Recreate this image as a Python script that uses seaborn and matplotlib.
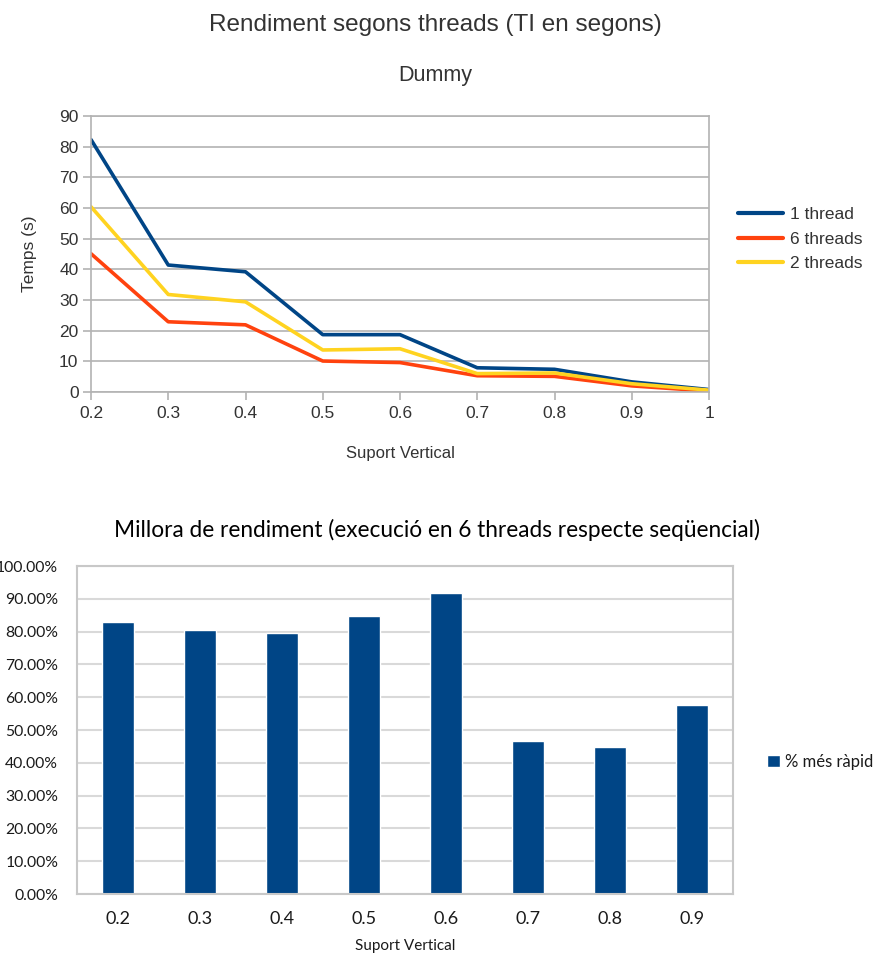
import numpy as np
import pandas as pd
import matplotlib
matplotlib.use("Agg")
import matplotlib.pyplot as plt
from matplotlib.patches import Patch
from matplotlib.ticker import FuncFormatter, MultipleLocator
import seaborn as sns

# --- data ---------------------------------------------------------------
support = [0.2, 0.3, 0.4, 0.5, 0.6, 0.7, 0.8, 0.9, 1.0]
t_1thread = [82.3, 41.4, 39.2, 18.7, 18.7, 7.9, 7.4, 3.3, 0.8]
t_6threads = [45.1, 22.9, 21.9, 10.1, 9.6, 5.3, 5.1, 2.0, 0.3]
t_2threads = [60.4, 31.8, 29.4, 13.7, 14.1, 6.0, 6.2, 2.7, 0.6]
series_names = ["1 thread", "6 threads", "2 threads"]
series_colors = ["#004586", "#ff420e", "#ffd320"]

bar_support = ["0.2", "0.3", "0.4", "0.5", "0.6", "0.7", "0.8", "0.9"]
speedup_pct = [82.9, 80.5, 79.6, 84.8, 91.7, 46.6, 44.8, 57.6]
bar_label = "% més ràpid"
bar_color = "#004586"

sns.set_theme(style="white", rc={"xtick.bottom": True, "ytick.left": True})
plt.rcParams["font.family"] = ["Liberation Sans", "DejaVu Sans"]

W, H = 873, 956
fig = plt.figure(figsize=(W / 100, H / 100), dpi=100)


def px_axes(left, top, right, bottom):
    return fig.add_axes([left / W, 1 - bottom / H, (right - left) / W, (bottom - top) / H])


# --- line chart: execution time -----------------------------------------
lines = pd.DataFrame({
    "support": support * 3,
    "temps": t_1thread + t_6threads + t_2threads,
    "serie": np.repeat(series_names, len(support)),
})

ax1 = px_axes(91, 116, 709, 392)
sns.lineplot(data=lines, x="support", y="temps", hue="serie",
             hue_order=series_names, palette=dict(zip(series_names, series_colors)),
             linewidth=2.6, ax=ax1, legend=False)
ax1.set_xlim(0.2, 1.0)
ax1.set_ylim(0, 90)
ax1.yaxis.set_major_locator(MultipleLocator(10))
ax1.set_xticks(support)
ax1.set_xticklabels(["0.2", "0.3", "0.4", "0.5", "0.6", "0.7", "0.8", "0.9", "1"])
grid_c = "#b3b3b3"
ax1.grid(axis="y", color=grid_c, linewidth=1.2)
ax1.set_axisbelow(True)
for s in ax1.spines.values():
    s.set_color(grid_c)
    s.set_linewidth(1.2)
ax1.tick_params(axis="both", which="major", color=grid_c, labelcolor="#333333",
                labelsize=12.5, length=6, width=1.2, direction="out")
ax1.tick_params(axis="y", pad=3)
ax1.tick_params(axis="x", pad=4)
ax1.set_xlabel("Suport Vertical", fontsize=12, color="#333333", labelpad=18)
ax1.set_ylabel("Temps (s)", fontsize=12.5, color="#333333", labelpad=16)

fig.text(435 / W, 1 - 25 / H, "Rendiment segons threads (TI en segons)",
         ha="center", va="center", fontsize=17.5, color="#333333")
fig.text(435 / W, 1 - 75 / H, "Dummy", ha="center", va="center",
         fontsize=15.5, color="#333333")

handles1 = [plt.Line2D([], [], color=c, linewidth=3) for c in series_colors]
fig.legend(handles1, series_names, loc="center left",
           bbox_to_anchor=(722 / W, 1 - 239 / H), frameon=False,
           fontsize=12.5, handlelength=2.6, handletextpad=0.4,
           labelspacing=0.55, labelcolor="#333333")

# --- bar chart: speed-up -------------------------------------------------
bars = pd.DataFrame({"support": bar_support, "pct": speedup_pct})
bar_font = ["Lato", "DejaVu Sans"]

ax2 = px_axes(77, 566, 733, 894)
sns.barplot(data=bars, x="support", y="pct", color=bar_color, saturation=1,
            width=0.4, ax=ax2)
ax2.set_xlim(-0.5, len(bar_support) - 0.5)
ax2.set_ylim(0, 100)
ax2.yaxis.set_major_locator(MultipleLocator(10))
ax2.yaxis.set_major_formatter(FuncFormatter(lambda v, _: f"{v:.2f}%"))
ax2.grid(axis="y", color="#d9d9d9", linewidth=1.5)
ax2.set_axisbelow(True)
for s in ax2.spines.values():
    s.set_color("#c8c8c8")
    s.set_linewidth(1.5)
ax2.tick_params(axis="both", length=0, labelcolor="#1a1a1a")
ax2.tick_params(axis="y", pad=13.5, labelsize=11.3)
ax2.tick_params(axis="x", pad=12, labelsize=13)
for lab in ax2.get_xticklabels() + ax2.get_yticklabels():
    lab.set_family(bar_font)
ax2.set_xlabel("Suport Vertical", fontsize=11, family=bar_font, color="#1a1a1a", labelpad=9)
ax2.set_ylabel("")

fig.text(437 / W, 1 - 530 / H,
         "Millora de rendiment (execució en 6 threads respecte seqüencial)",
         ha="center", va="center", fontsize=16.3, family=bar_font, color="#000000")

fig.legend([Patch(facecolor=bar_color)], [bar_label], loc="center left",
           bbox_to_anchor=(752 / W, 1 - 762 / H), frameon=False,
           prop={"family": bar_font, "size": 12}, handlelength=0.75,
           handleheight=0.75, handletextpad=0.35, labelcolor="#1a1a1a")

fig.savefig("out.png", dpi=100)
